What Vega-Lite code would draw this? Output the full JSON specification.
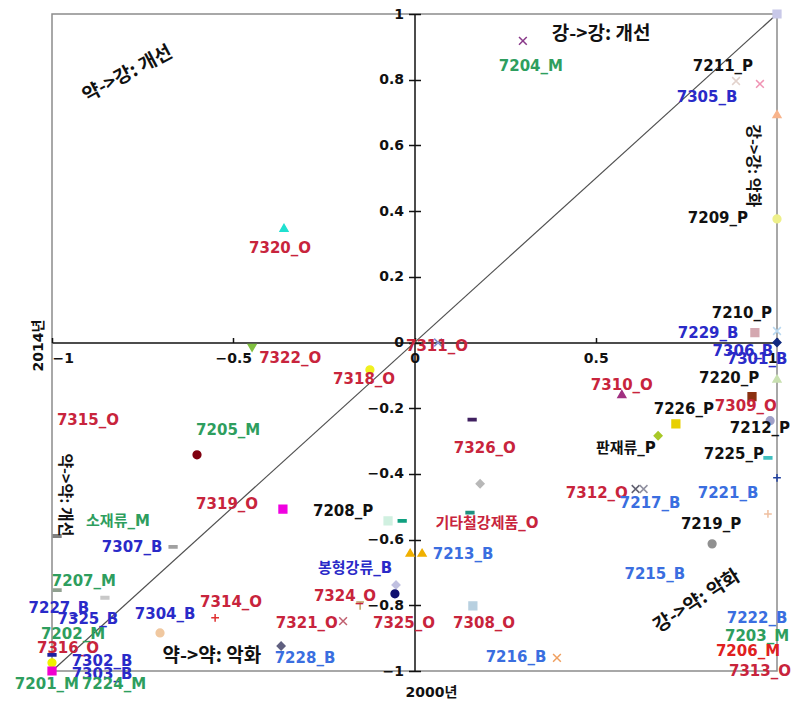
{
"$schema":"https://vega.github.io/schema/vega-lite/v6.json",
"width":725,"height":657,
"autosize":{"type":"none"},
"padding":{"left":52,"top":14,"right":14,"bottom":30},
"background":"white",
"config":{
 "view":{"stroke":"#8c8c8c","strokeWidth":1.5},
 "axis":{"labelFont":"DejaVu Sans","labelFontSize":14,"labelFontWeight":"bold","labelColor":"#111111","grid":false,
  "titleFont":"DejaVu Sans, Noto Sans CJK KR","titleFontSize":14,"titleFontWeight":"bold","titleColor":"#111111"}
},
"datasets":{
 "diag":[{"x":-1,"y":-1,"x2":1,"y2":1}],
 "points":[
  {"id":"7204_M","x":0.299,"y":0.918},
  {"id":"7211_P","x":0.887,"y":0.796},
  {"id":"7305_B","x":0.953,"y":0.787},
  {"id":"u1","x":1.0,"y":0.695},
  {"id":"7209_P","x":1.0,"y":0.376},
  {"id":"u2","x":1.0,"y":1.0},
  {"id":"7229_B","x":0.939,"y":0.030},
  {"id":"7210_P","x":1.0,"y":0.035},
  {"id":"7306_B","x":1.0,"y":0.0},
  {"id":"7220_P","x":1.0,"y":-0.11},
  {"id":"7309_O","x":0.931,"y":-0.165},
  {"id":"7212_P","x":0.981,"y":-0.238},
  {"id":"7225_P","x":0.975,"y":-0.351},
  {"id":"7221_B","x":1.0,"y":-0.412},
  {"id":"7226_P","x":0.721,"y":-0.248},
  {"id":"판재류_P","x":0.672,"y":-0.284},
  {"id":"7310_O","x":0.572,"y":-0.157},
  {"id":"7312_O","x":0.61,"y":-0.446},
  {"id":"7217_B","x":0.632,"y":-0.446},
  {"id":"7219_P","x":0.821,"y":-0.613},
  {"id":"u3","x":0.975,"y":-0.522},
  {"id":"7216_B","x":0.393,"y":-0.96},
  {"id":"7311_O","x":0.065,"y":0.0},
  {"id":"7318_O","x":-0.123,"y":-0.083},
  {"id":"7322_O","x":-0.448,"y":-0.016},
  {"id":"7326_O","x":0.159,"y":-0.235},
  {"id":"u4","x":0.181,"y":-0.43},
  {"id":"기타철강제품_O","x":0.153,"y":-0.518},
  {"id":"7208_P","x":-0.363,"y":-0.507},
  {"id":"u5","x":-0.034,"y":-0.543},
  {"id":"u6","x":-0.073,"y":-0.543},
  {"id":"7213_B","x":0.021,"y":-0.64},
  {"id":"u7","x":-0.012,"y":-0.64},
  {"id":"봉형강류_B","x":-0.051,"y":-0.738},
  {"id":"7325_O","x":-0.054,"y":-0.765},
  {"id":"7324_O","x":-0.15,"y":-0.802},
  {"id":"7321_O","x":-0.197,"y":-0.848},
  {"id":"7308_O","x":0.161,"y":-0.802},
  {"id":"7228_B","x":-0.368,"y":-0.924},
  {"id":"7320_O","x":-0.36,"y":0.349},
  {"id":"7205_M","x":-0.6,"y":-0.342},
  {"id":"7307_B","x":-0.666,"y":-0.622},
  {"id":"소재류_M","x":-0.986,"y":-0.589},
  {"id":"7207_M","x":-0.854,"y":-0.777},
  {"id":"u8","x":-0.986,"y":-0.754},
  {"id":"7314_O","x":-0.55,"y":-0.838},
  {"id":"7304_B","x":-0.702,"y":-0.884},
  {"id":"7302_B","x":-1.0,"y":-0.951},
  {"id":"7316_O","x":-1.0,"y":-0.975},
  {"id":"7201_M","x":-1.0,"y":-1.0}
 ],
 "labels":[
  {"t":"7204_M","x":0.321,"y":0.842,"k":"M"},
  {"t":"7211_P","x":0.851,"y":0.842,"k":"P"},
  {"t":"7305_B","x":0.807,"y":0.748,"k":"Bd"},
  {"t":"7209_P","x":0.837,"y":0.38,"k":"P"},
  {"t":"7210_P","x":0.903,"y":0.09,"k":"P"},
  {"t":"7229_B","x":0.81,"y":0.029,"k":"Bd"},
  {"t":"7306_B","x":0.906,"y":-0.025,"k":"Bd"},
  {"t":"7301_B","x":0.945,"y":-0.05,"k":"Bd"},
  {"t":"7220_P","x":0.868,"y":-0.107,"k":"P"},
  {"t":"7309_O","x":0.914,"y":-0.193,"k":"O"},
  {"t":"7212_P","x":0.953,"y":-0.26,"k":"P"},
  {"t":"7225_P","x":0.881,"y":-0.339,"k":"P"},
  {"t":"7221_B","x":0.865,"y":-0.458,"k":"Bl"},
  {"t":"7226_P","x":0.743,"y":-0.202,"k":"P"},
  {"t":"판재류_P","x":0.583,"y":-0.321,"k":"P"},
  {"t":"7310_O","x":0.572,"y":-0.129,"k":"O"},
  {"t":"7312_O","x":0.503,"y":-0.458,"k":"O"},
  {"t":"7217_B","x":0.65,"y":-0.488,"k":"Bl"},
  {"t":"7219_P","x":0.818,"y":-0.552,"k":"P"},
  {"t":"7215_B","x":0.663,"y":-0.704,"k":"Bl"},
  {"t":"7222_B","x":0.945,"y":-0.838,"k":"Bl"},
  {"t":"7203_M","x":0.945,"y":-0.893,"k":"M"},
  {"t":"7206_M","x":0.92,"y":-0.939,"k":"Mr"},
  {"t":"7313_O","x":0.953,"y":-1.0,"k":"O"},
  {"t":"7216_B","x":0.28,"y":-0.957,"k":"Bl"},
  {"t":"7311_O","x":0.062,"y":-0.01,"k":"O"},
  {"t":"7318_O","x":-0.139,"y":-0.11,"k":"O"},
  {"t":"7322_O","x":-0.343,"y":-0.047,"k":"O"},
  {"t":"7326_O","x":0.194,"y":-0.321,"k":"O"},
  {"t":"7208_P","x":-0.197,"y":-0.512,"k":"P"},
  {"t":"기타철강제품_O","x":0.2,"y":-0.549,"k":"O"},
  {"t":"7213_B","x":0.134,"y":-0.643,"k":"Bl"},
  {"t":"봉형강류_B","x":-0.164,"y":-0.686,"k":"Bd"},
  {"t":"7324_O","x":-0.192,"y":-0.771,"k":"O"},
  {"t":"7325_O","x":-0.029,"y":-0.853,"k":"O"},
  {"t":"7321_O","x":-0.297,"y":-0.853,"k":"O"},
  {"t":"7308_O","x":0.192,"y":-0.853,"k":"O"},
  {"t":"7228_B","x":-0.302,"y":-0.96,"k":"Bl"},
  {"t":"7320_O","x":-0.371,"y":0.288,"k":"O"},
  {"t":"7315_O","x":-0.901,"y":-0.235,"k":"O"},
  {"t":"7205_M","x":-0.514,"y":-0.266,"k":"M"},
  {"t":"7319_O","x":-0.517,"y":-0.491,"k":"O"},
  {"t":"소재류_M","x":-0.818,"y":-0.543,"k":"M"},
  {"t":"7307_B","x":-0.779,"y":-0.622,"k":"Bd"},
  {"t":"7207_M","x":-0.912,"y":-0.726,"k":"M"},
  {"t":"7227_B","x":-0.981,"y":-0.808,"k":"Bd"},
  {"t":"7325_B","x":-0.901,"y":-0.841,"k":"Bd"},
  {"t":"7304_B","x":-0.688,"y":-0.826,"k":"Bd"},
  {"t":"7314_O","x":-0.506,"y":-0.789,"k":"O"},
  {"t":"7202_M","x":-0.942,"y":-0.887,"k":"M"},
  {"t":"7316_O","x":-0.956,"y":-0.929,"k":"O"},
  {"t":"7302_B","x":-0.862,"y":-0.969,"k":"Bd"},
  {"t":"7303_B","x":-0.862,"y":-1.009,"k":"Bd"},
  {"t":"7201_M","x":-1.014,"y":-1.039,"k":"M"},
  {"t":"7224_M","x":-0.829,"y":-1.039,"k":"M"}
 ],
 "notes":[
  {"t":"약->강: 개선","x":-0.792,"y":0.818},
  {"t":"강->강: 개선","x":0.515,"y":0.94},
  {"t":"강->강: 악화","x":0.934,"y":0.538},
  {"t":"약->약: 개선","x":-0.964,"y":-0.464},
  {"t":"약->약: 악화","x":-0.559,"y":-0.954},
  {"t":"강->약: 악화","x":0.779,"y":-0.787}
 ]
},
"resolve":{"axis":{"x":"independent","y":"independent"},"scale":{"color":"independent"}},
"layer":[
 {
  "data":{"name":"diag"},
  "mark":{"type":"rule","color":"#505050","strokeWidth":1.2},
  "encoding":{
   "x":{"field":"x","type":"quantitative","scale":{"domain":[-1,1],"nice":false,"zero":false},
    "axis":{"orient":"bottom","offset":-328.5,"values":[-1,-0.5,0,0.5,1],"format":"~g","ticks":false,"labelPadding":9,
     "domainColor":"#111111","domainWidth":1.5,"labelOverlap":false,
     "title":"2000년","titleX":379,"titleY":350,"titleBaseline":"middle","titleAngle":0,"titleAlign":"center"}},
   "y":{"field":"y","type":"quantitative","scale":{"domain":[-1,1],"nice":false,"zero":false},
    "axis":{"orient":"left","offset":-362.5,"values":[-1,-0.8,-0.6,-0.4,-0.2,0,0.2,0.4,0.6,0.8,1],"format":"~g",
     "tickSize":6,"tickColor":"#111111","tickWidth":1.5,"labelPadding":5,"domainColor":"#111111","domainWidth":1.5,"labelOverlap":false,
     "title":"2014년","titleX":-376,"titleY":331,"titleBaseline":"middle","titleAngle":-90,"titleAlign":"center"}},
   "x2":{"field":"x2"},
   "y2":{"field":"y2"}
  }
 },
 {
  "data":{"name":"points"},
  "mark":{"type":"point","filled":true,"size":60,"strokeWidth":1.5,"opacity":1},
  "encoding":{
   "x":{"field":"x","type":"quantitative","scale":{"domain":[-1,1],"nice":false,"zero":false},
    "axis":{"orient":"top","offset":-328.5,"values":[-1,-0.5,0,0.5,1],"labels":false,"domain":false,"tickSize":5,"tickColor":"#111111","tickWidth":1.5,"title":null}},
   "y":{"field":"y","type":"quantitative","scale":{"domain":[-1,1],"nice":false,"zero":false},
    "axis":{"orient":"right","offset":-362.5,"values":[-1,-0.8,-0.6,-0.4,-0.2,0,0.2,0.4,0.6,0.8,1],"labels":false,"domain":false,"tickSize":6,"tickColor":"#111111","tickWidth":1.5,"title":null}},
   "shape":{"field":"id","type":"nominal","legend":null,"scale":{
    "domain":["7204_M","7211_P","7305_B","u1","7209_P","u2","7229_B","7210_P","7306_B","7220_P","7309_O","7212_P","7225_P","7221_B","7226_P","판재류_P","7310_O","7312_O","7217_B","7219_P","u3","7216_B","7311_O","7318_O","7322_O","7326_O","u4","기타철강제품_O","7208_P","u5","u6","7213_B","u7","봉형강류_B","7325_O","7324_O","7321_O","7308_O","7228_B","7320_O","7205_M","7307_B","소재류_M","7207_M","u8","7314_O","7304_B","7302_B","7316_O","7201_M"],
    "range":["M-1,-1L1,1M1,-1L-1,1","M-1,-1L1,1M1,-1L-1,1","M-1,-1L1,1M1,-1L-1,1","triangle-up","circle","square","square","M-1,-1L1,1M1,-1L-1,1","diamond","triangle-up","square","circle","M-1,-0.3L1,-0.3L1,0.3L-1,0.3Z","M-1,0L1,0M0,-1L0,1","square","diamond","triangle-up","M-1,-1L1,1M1,-1L-1,1","M-1,-1L1,1M1,-1L-1,1","circle","M-1,0L1,0M0,-1L0,1","M-1,-1L1,1M1,-1L-1,1","M-1,-1L1,1M1,-1L-1,1","circle","triangle-down","M-1,-0.3L1,-0.3L1,0.3L-1,0.3Z","diamond","M-1,-0.3L1,-0.3L1,0.3L-1,0.3Z","square","M-1,-0.3L1,-0.3L1,0.3L-1,0.3Z","square","triangle-up","triangle-up","diamond","circle","M-1,-1L1,-1M0,-1L0,1","M-1,-1L1,1M1,-1L-1,1","square","diamond","triangle-up","circle","M-1,-0.3L1,-0.3L1,0.3L-1,0.3Z","M-1,-0.3L1,-0.3L1,0.3L-1,0.3Z","M-1,-0.3L1,-0.3L1,0.3L-1,0.3Z","M-1,-0.3L1,-0.3L1,0.3L-1,0.3Z","M-1,0L1,0M0,-1L0,1","circle","M-1,-0.3L1,-0.3L1,0.3L-1,0.3Z","circle","square"]}},
   "color":{"field":"id","type":"nominal","legend":null,"scale":{
    "domain":["7204_M","7211_P","7305_B","u1","7209_P","u2","7229_B","7210_P","7306_B","7220_P","7309_O","7212_P","7225_P","7221_B","7226_P","판재류_P","7310_O","7312_O","7217_B","7219_P","u3","7216_B","7311_O","7318_O","7322_O","7326_O","u4","기타철강제품_O","7208_P","u5","u6","7213_B","u7","봉형강류_B","7325_O","7324_O","7321_O","7308_O","7228_B","7320_O","7205_M","7307_B","소재류_M","7207_M","u8","7314_O","7304_B","7302_B","7316_O","7201_M"],
    "range":["#8a3a8a","#e2d2cc","#f094b4","#f8b48c","#eef08a","#c8c8e8","#d4a8b0","#b8d8f0","#102a80","#c8e0b0","#8b3010","#a0a0c8","#40c0c0","#2040a0","#e8d000","#a8c828","#a03080","#606070","#9090a0","#909090","#f0c0a0","#f0a060","#8090d0","#f0f020","#80c040","#402060","#b8b8b8","#209080","#f000e0","#10a080","#d0f0e0","#f0b000","#f0b000","#c0c0e0","#101070","#c0a060","#c06070","#b8d0e0","#606080","#20e0d0","#800010","#a0a0a0","#808080","#c8c8c8","#90a090","#e03030","#f0c8a0","#2020a0","#f0f000","#f000d0"]}},
   "stroke":{"field":"id","type":"nominal","legend":null,"scale":{
    "domain":["7204_M","7211_P","7305_B","u1","7209_P","u2","7229_B","7210_P","7306_B","7220_P","7309_O","7212_P","7225_P","7221_B","7226_P","판재류_P","7310_O","7312_O","7217_B","7219_P","u3","7216_B","7311_O","7318_O","7322_O","7326_O","u4","기타철강제품_O","7208_P","u5","u6","7213_B","u7","봉형강류_B","7325_O","7324_O","7321_O","7308_O","7228_B","7320_O","7205_M","7307_B","소재류_M","7207_M","u8","7314_O","7304_B","7302_B","7316_O","7201_M"],
    "range":["#8a3a8a","#e2d2cc","#f094b4","#f8b48c","#eef08a","#c8c8e8","#d4a8b0","#b8d8f0","#102a80","#c8e0b0","#8b3010","#a0a0c8","#40c0c0","#2040a0","#e8d000","#a8c828","#a03080","#606070","#9090a0","#909090","#f0c0a0","#f0a060","#8090d0","#f0f020","#80c040","#402060","#b8b8b8","#209080","#f000e0","#10a080","#d0f0e0","#f0b000","#f0b000","#c0c0e0","#101070","#c0a060","#c06070","#b8d0e0","#606080","#20e0d0","#800010","#a0a0a0","#808080","#c8c8c8","#90a090","#e03030","#f0c8a0","#2020a0","#f0f000","#f000d0"]}}
  }
 },
 {
  "data":{"name":"labels"},
  "mark":{"type":"text","font":"DejaVu Sans, Noto Sans CJK KR","fontSize":15,"fontWeight":"bold","align":"center","baseline":"middle"},
  "encoding":{
   "x":{"field":"x","type":"quantitative","axis":null},
   "y":{"field":"y","type":"quantitative","axis":null},
   "text":{"field":"t"},
   "color":{"field":"k","type":"nominal","legend":null,"scale":{"domain":["O","M","Mr","Bd","Bl","P"],"range":["#c8243c","#2e9e5e","#e02020","#2a2ac8","#3a6ee0","#111111"]}}
  }
 },
 {
  "data":{"name":"notes"},
  "transform":[{"filter":"datum.t === '강->강: 개선' || datum.t === '약->약: 악화'"}],
  "mark":{"type":"text","font":"Noto Sans CJK KR","fontSize":19,"fontWeight":"bold","align":"center","baseline":"middle","color":"#111111"},
  "encoding":{"x":{"field":"x","type":"quantitative","axis":null},"y":{"field":"y","type":"quantitative","axis":null},"text":{"field":"t"}}
 },
 {
  "data":{"name":"notes"},
  "transform":[{"filter":"datum.t === '강->강: 악화' || datum.t === '약->약: 개선'"}],
  "mark":{"type":"text","font":"Noto Sans CJK KR","fontSize":16,"fontWeight":"bold","align":"center","baseline":"middle","angle":90,"color":"#111111"},
  "encoding":{"x":{"field":"x","type":"quantitative","axis":null},"y":{"field":"y","type":"quantitative","axis":null},"text":{"field":"t"}}
 },
 {
  "data":{"name":"notes"},
  "transform":[{"filter":"datum.t === '약->강: 개선'"}],
  "mark":{"type":"text","font":"Noto Sans CJK KR","fontSize":19,"fontWeight":"bold","align":"center","baseline":"middle","angle":-28,"color":"#111111"},
  "encoding":{"x":{"field":"x","type":"quantitative","axis":null},"y":{"field":"y","type":"quantitative","axis":null},"text":{"field":"t"}}
 },
 {
  "data":{"name":"notes"},
  "transform":[{"filter":"datum.t === '강->약: 악화'"}],
  "mark":{"type":"text","font":"Noto Sans CJK KR","fontSize":19,"fontWeight":"bold","align":"center","baseline":"middle","angle":-33,"color":"#111111"},
  "encoding":{"x":{"field":"x","type":"quantitative","axis":null},"y":{"field":"y","type":"quantitative","axis":null},"text":{"field":"t"}}
 }
]
}
